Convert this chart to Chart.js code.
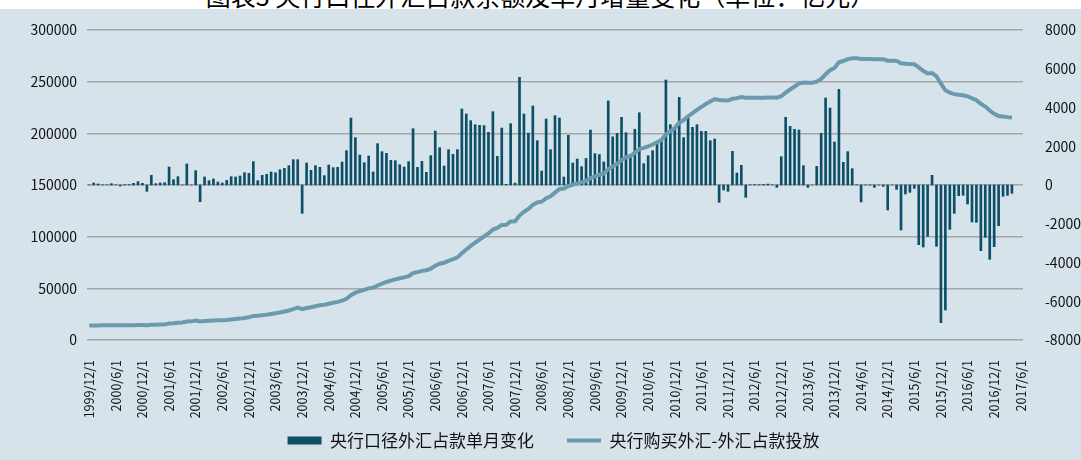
<!DOCTYPE html>
<html lang="zh-CN">
<head>
<meta charset="UTF-8">
<title>央行口径外汇占款</title>
<script src="https://cdn.jsdelivr.net/npm/chart.js"></script>
<style>
  html, body { margin: 0; padding: 0; background: #fff; }
  body { width: 1081px; height: 460px; position: relative; overflow: hidden; font-family: "Noto Sans CJK SC", sans-serif; }
  #title { position: absolute; left: 0; top: -20px; width: 1081px; text-align: center; font-size: 25px; line-height: 30px; color: #000; }
  #panel { position: absolute; left: 0; top: 9px; width: 1081px; height: 451px; background: #d6e3eb; }
</style>
</head>
<body>
<div id="title">图表3 央行口径外汇占款余额及单月增量变化（单位：亿元）</div>
<div id="panel"><canvas id="fxChart" width="1081" height="451"></canvas></div>

<script>
    // monthly categories 1999/12 .. 2017/6
    const startYear = 1999;
    const startMonth = 12;
    const monthCount = 211;

    const barName = '央行口径外汇占款单月变化';
    const lineName = '央行购买外汇-外汇占款投放';

    // 单月变化 (右轴, 亿元)
    const fxChange = [
        0,
        103, 52, 5, 5, 69, 10, -52, 17, 20, 86, 172, 86,                       // 2000
        -327, 499, 69, 103, 120, 929, 275, 430, 0, 1084, 0, 740,               // 2001
        -860, 413, 224, 310, 155, 103, 241, 430, 413, 464, 636, 602,           // 2002
        1204, 224, 499, 550, 671, 636, 791, 860, 998, 1307, 1307, -1462,       // 2003
        1135, 757, 998, 912, 482, 1032, 894, 912, 1187, 1772, 3457, 2442,      // 2004
        1548, 1152, 1496, 671, 2133, 1720, 1634, 1273, 1256, 1049, 929, 1204,  // 2005
        2907, 912, 1221, 654, 1514, 2786, 1926, 980, 1823, 1582, 1823, 3922,   // 2006
        3664, 3320, 3113, 3079, 3062, 2718, 3784, 1479, 2941, 34, 3165, 103,   // 2007
        5556, 3664, 2683, 4076, 2288, 720, 3406, 1823, 3578, 3457, 413, 2563,  // 2008
        1135, 1342, 946, 1370, 2838, 1620, 1570, 1190, 4340, 2485, 2666, 3492, // 2009
        2700, 1428, 2880, 3730, 1100, 1514, 1772, 2150, 2322, 5418, 3113, 2890, // 2010
        4524, 2442, 3492, 2976, 3113, 2769, 2769, 2288, 2374, -894, -258, -327, // 2011
        1737, 619, 1015, -636, 10, 20, 15, 30, 50, 10, -120, 1462,             // 2012
        3492, 3027, 2872, 2838, 998, -120, 0, 963, 2666, 4489, 3973, 2219,     // 2013
        4936, 1170, 1720, 843, 10, -877, -5, -10, -120, -5, -69, -1290,        // 2014
        0, -224, -2322, -464, -378, -172, -3079, -3199, -2649, 499, -3165, -7104, // 2015
        -6450, -2288, -1462, -550, -533, -980, -1909, -1926, -3388, -2700, -3836, -3182, // 2016
        -2098, -585, -533, -430, null, null                                    // 2017
    ];

    // 外汇占款余额 (左轴, 亿元)
    const fxStock = [
        14000,
        14100, 14150, 14160, 14170, 14240, 14250, 14200, 14220, 14240, 14330, 14500, 14600,
        14300, 14800, 14870, 14970, 15100, 16030, 16300, 16730, 16900, 17900, 18050, 18800,
        17940, 18350, 18580, 18890, 19040, 19150, 19390, 19820, 20230, 20700, 21330, 21930,
        23300, 23500, 24000, 24550, 25250, 25900, 26700, 27550, 28550, 29900, 31250, 29800,
        30940, 31700, 32700, 33610, 34090, 35120, 36010, 36920, 38110, 39880, 43340, 45780,
        47330, 48480, 49980, 50650, 52780, 54500, 56130, 57400, 58660, 59710, 60640, 61840,
        64750, 65660, 66880, 67530, 69050, 71840, 73770, 74750, 76570, 78150, 79970, 83890,
        87650, 91000, 94150, 97250, 100350, 103100, 106900, 108400, 111400, 111450, 114700, 114850,
        120400, 124070, 126750, 130830, 133120, 133840, 137250, 139070, 142650, 146100, 146520, 149080,
        150220, 151560, 152500, 153870, 156710, 158330, 159900, 161090, 165430, 167920, 170580, 174070,
        176770, 178200, 181080, 184810, 185910, 187420, 189200, 191350, 193670, 199090, 202200, 205090,
        210300, 212900, 216500, 219600, 222800, 225600, 228400, 230800, 233200, 232300, 232000, 231700,
        233440, 234060, 235070, 234430, 234440, 234460, 234480, 234510, 234560, 234570, 234450, 235900,
        239400, 242420, 245300, 248130, 249130, 249010, 249010, 249970, 252640, 257130, 261100, 263320,
        268800, 270000, 271800, 272700, 272750, 271870, 271860, 271850, 271730, 271720, 271650, 270360,
        270360, 270140, 267820, 267360, 266980, 266810, 263730, 260530, 257880, 258380, 255210, 248110,
        241660, 239370, 237910, 237360, 236830, 235850, 233940, 232010, 228620, 225920, 222090, 218900,
        216800, 216220, 215690, 215260, null, null
    ];

    const monthLabels = [];
    for (let k = 0; k < monthCount; k++) {
        const m = (startMonth - 1 + k) % 12 + 1;
        const y = startYear + Math.floor((startMonth - 1 + k) / 12);
        monthLabels.push(y + '/' + m + '/1');
    }

    Chart.defaults.font.family = '"Noto Sans CJK SC", "Noto Sans", sans-serif';
    Chart.defaults.color = '#111';

    const ctx = document.getElementById('fxChart').getContext('2d');
    const fxChart = new Chart(ctx, {
        type: 'bar',
        data: {
            labels: monthLabels,
            datasets: [{
                type: 'line',
                label: lineName,
                data: fxStock,
                yAxisID: 'y',
                borderColor: '#6a9aad',
                backgroundColor: '#6a9aad',
                borderWidth: 4,
                pointRadius: 0,
                pointBorderWidth: 4,
                tension: 0,
                order: 0
            }, {
                type: 'bar',
                label: barName,
                data: fxChange,
                yAxisID: 'y1',
                backgroundColor: '#0c4f66',
                barThickness: 2,
                order: 1
            }]
        },
        options: {
            responsive: false,
            animation: false,
            layout: { padding: { left: 26, top: 21, right: 0, bottom: 1 } },
            plugins: {
                tooltip: { enabled: false },
                legend: {
                    position: 'bottom',
                    reverse: true,
                    labels: {
                        usePointStyle: true,
                        pointStyleWidth: 34,
                        boxHeight: 8,
                        padding: 33,
                        font: { size: 17 },
                        generateLabels(chart) {
                            const items = Chart.defaults.plugins.legend.labels.generateLabels(chart);
                            items.forEach(it => {
                                if (it.datasetIndex === 0) {
                                    it.pointStyle = 'line';
                                    it.lineWidth = 4;
                                } else {
                                    it.pointStyle = 'rect';
                                    it.lineWidth = 0;
                                }
                            });
                            return items;
                        }
                    }
                }
            },
            scales: {
                x: {
                    grid: { display: false },
                    border: { display: false },
                    ticks: {
                        autoSkip: false,
                        minRotation: 90,
                        maxRotation: 90,
                        padding: 12,
                        font: { size: 12.5 },
                        callback(v, i) { return i % 6 === 0 ? this.getLabelForValue(v) : null; }
                    },
                    afterFit(s) {
                        s.height = 59;
                        // labels run down into the empty legend padding, don't clip them
                        s._computeLabelArea = () => undefined;
                    }
                },
                y: {
                    position: 'left',
                    min: 0,
                    max: 300000,
                    ticks: { stepSize: 50000, padding: 2, font: { size: 14 }, callback: v => String(v) },
                    grid: { color: '#a6a6a6', lineWidth: 1.5, drawTicks: true, tickLength: 8, tickColor: 'transparent' },
                    border: { display: false },
                    afterFit(s) { s.width = 61; }
                },
                y1: {
                    position: 'right',
                    min: -8000,
                    max: 8000,
                    ticks: { stepSize: 2000, padding: 2, font: { size: 14 }, callback: v => String(v) },
                    grid: { display: false, drawTicks: true, tickLength: 20 },
                    border: { display: false },
                    afterFit(s) { s.width = 58; }
                }
            }
        }
    });
</script>
</body>
</html>
